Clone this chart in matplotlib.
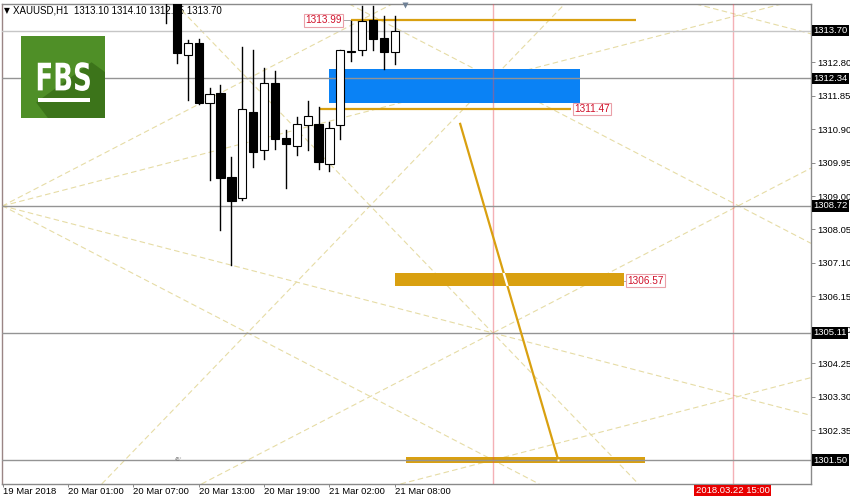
import matplotlib
matplotlib.use("Agg")
import matplotlib.pyplot as plt
import matplotlib.transforms as mtransforms
from matplotlib.patches import Rectangle, Polygon, PathPatch
from matplotlib.textpath import TextPath
from matplotlib.font_manager import FontProperties

plt.rcParams["font.family"] = ["Liberation Sans", "DejaVu Sans"]

# XAUUSD H1 candles (bar index, 0 = 19 Mar 2018 left edge)
bar_idx = list(range(15, 37))
opens = [1315.30, 1314.90, 1313.00, 1313.36, 1311.65, 1311.94, 1309.55, 1308.95,
         1311.40, 1310.31, 1312.20, 1310.66, 1310.42, 1311.02, 1311.05, 1309.91,
         1311.01, 1313.10, 1313.15, 1314.00, 1313.50, 1313.10]
highs = [1315.80, 1315.40, 1313.43, 1313.46, 1312.06, 1312.15, 1310.12, 1313.24,
         1313.15, 1312.64, 1312.55, 1310.89, 1311.24, 1311.71, 1311.54, 1311.09,
         1313.15, 1313.98, 1314.40, 1314.40, 1314.11, 1314.10]
lows = [1313.92, 1312.78, 1311.73, 1311.61, 1309.45, 1308.03, 1307.04, 1308.89,
        1309.83, 1310.04, 1310.35, 1309.22, 1310.16, 1310.31, 1309.76, 1309.71,
        1310.61, 1312.84, 1313.00, 1313.15, 1312.60, 1312.75]
closes = [1314.60, 1313.06, 1313.36, 1311.65, 1311.89, 1309.50, 1308.86, 1311.46,
          1310.25, 1312.20, 1310.61, 1310.47, 1311.05, 1311.27, 1309.96, 1310.94,
          1313.15, 1313.10, 1313.97, 1313.45, 1313.10, 1313.70]

xtick_pos = [0, 6, 12, 18, 24, 30, 36]
xtick_labels = ["19 Mar 2018", "20 Mar 01:00", "20 Mar 07:00", "20 Mar 13:00",
                "20 Mar 19:00", "21 Mar 02:00", "21 Mar 08:00"]
ytick_vals = [1302.35, 1303.30, 1304.25, 1305.20, 1306.15, 1307.10, 1308.05,
              1309.00, 1309.95, 1310.90, 1311.85, 1312.80]

# horizontal price levels (first one is the bid line)
levels = [1313.70, 1312.34, 1308.72, 1305.11, 1301.50]
vlines = [45, 67]
vline_label = "2018.03.22 15:00"

# gann grid lines: anchor bar, anchor price, slope (price per bar)
gann_x = [0, 0, 0, 0, 45, 45, 45, 45, 45, 67.5]
gann_y = [1308.72, 1308.72, 1308.72, 1308.72, 1312.34, 1305.11, 1305.11, 1312.34, 1301.50, 1314.145]
gann_slope = [0.1604, 0.0802, -0.0802, -0.1604, -0.1604, -0.3209, 0.1604, 0.3209, 0.0802, -0.0802]

# objects
blue_box = (30, 53, 1311.65, 1312.61)
gold_lines = [(32, 58.1, 1313.99), (29, 52.2, 1311.47)]
zones = [(36, 57, 1306.44, 1306.80), (37, 59, 1301.42, 1301.59)]
trend_x = [42, 51]
trend_y = [1311.05, 1301.50]

W, H = 850, 497
fig = plt.figure(figsize=(W / 100, H / 100), dpi=100)
ax = fig.add_axes([2 / W, 1 - 484 / H, 809 / W, 480 / H])
ax.set_xlim(-0.055, 74.2)
ax.set_ylim(1300.82, 1314.455)

gold = "#d9a010"

for x0, y0, s in zip(gann_x, gann_y, gann_slope):
    ax.axline((x0, y0), slope=s, color="#e6dca5", lw=0.8, ls=(0, (5, 3)), zorder=1)

ax.add_patch(Rectangle((blue_box[0], blue_box[2]), blue_box[1] - blue_box[0],
                       blue_box[3] - blue_box[2], color="#0a82f5", lw=0, zorder=2))

for (x0, x1, y0, y1) in zones:
    ax.add_patch(Rectangle((x0, y0), x1 - x0, y1 - y0, color=gold, lw=0, zorder=2.5))

for x in vlines:
    ax.axvline(x, color="#e8505e", alpha=0.45, lw=1, zorder=2.7)

for i, lv in enumerate(levels):
    ax.axhline(lv, color="#c6c6c6" if i == 0 else "#949494", lw=1, zorder=3)

for x0, x1, y in gold_lines:
    ax.plot([x0, x1], [y, y], color=gold, lw=1.6, zorder=3.5, solid_capstyle="butt")

# trend line, white where it runs over the upper zone
ax.plot(trend_x, trend_y, color=gold, lw=1.6, zorder=3.6)
zx0, zx1, zy0, zy1 = zones[0]
clip = Rectangle((zx0, zy0), zx1 - zx0, zy1 - zy0, transform=ax.transData)
wl, = ax.plot(trend_x, trend_y, color="white", lw=1.6, zorder=3.7)
wl.set_clip_path(clip)
ax.plot(trend_x[1], trend_y[1], "s", ms=2, color="white", mec="none", zorder=3.8)

# candles
for i, o, h, l, c in zip(bar_idx, opens, highs, lows, closes):
    ax.plot([i, i], [l, h], color="black", lw=1, zorder=4)
    bot = min(o, c)
    ht = max(abs(c - o), 0.015)
    fc = "white" if c >= o else "black"
    ax.add_patch(Rectangle((i - 0.38, bot), 0.76, ht, facecolor=fc,
                           edgecolor="black", lw=0.8, zorder=5))

# price labels of objects
lab = dict(fontsize=7.2, color="#d0102a", va="center", zorder=6,
           bbox=dict(boxstyle="square,pad=0.12", fc="white", ec="#eaa0a8", lw=0.8))
ax.text(31.1, 1313.99, "1313.99", ha="right", **lab)
ax.plot([31.1, 32], [1313.99, 1313.99], color="#999", lw=0.6, zorder=3.4)
ax.text(52.45, 1311.47, "1311.47", ha="left", **lab)
ax.text(57.35, 1306.60, "1306.57", ha="left", **lab)
ax.plot([57, 57.35], [1306.60, 1306.60], color="#999", lw=0.6, zorder=3.4)
ax.text(16.2, 1301.52, "45°", fontsize=3.5, color="#777", va="center", ha="center", zorder=4)

# header
ax.text(0.003, 0.987, "\u25bc", transform=ax.transAxes, fontsize=5.5, color="black",
        va="center", ha="left", zorder=0.5, family="DejaVu Sans")
ax.text(0.0135, 0.987, "XAUUSD,H1  1313.10 1314.10 1312.75 1313.70", transform=ax.transAxes,
        fontsize=7, color="black", va="center", ha="left", zorder=0.5)
ax.plot(36.9, 1314.42, marker="v", ms=5, color="#6f8196", mec="none", clip_on=False, zorder=6)

# axes
ax.yaxis.tick_right()
ax.set_yticks(ytick_vals)
ax.set_yticklabels([f"{v:.2f}" for v in ytick_vals])
ax.set_xticks(xtick_pos)
ax.set_xticklabels(xtick_labels, ha="left")
ax.tick_params(axis="y", labelsize=6.8, length=3, width=0.6, color="#777", pad=1.5)
ax.tick_params(axis="x", labelsize=6.8, length=2, width=0.6, color="#777", pad=0.3)
for sp in ax.spines.values():
    sp.set_color("#8a8a8a")
    sp.set_linewidth(1)
ax.spines["left"].set_color("#9a8585")

tr = mtransforms.blended_transform_factory(ax.transAxes, ax.transData)
for lv in levels:
    ax.text(1.003, lv, f"{lv:.2f}", transform=tr, fontsize=6.8, color="white", va="center",
            ha="left", bbox=dict(boxstyle="square,pad=0.15", fc="black", ec="none"), zorder=7,
            clip_on=False)

trx = mtransforms.blended_transform_factory(ax.transData, ax.transAxes)
ax.text(vlines[1], -0.0135, vline_label, transform=trx, fontsize=6.8, color="white",
        va="center", ha="center", clip_on=False,
        bbox=dict(boxstyle="square,pad=0.15", fc="#e80000", ec="none"))

# FBS logo
lg = fig.add_axes([21 / W, 1 - 118 / H, 84 / W, 82 / H])
lg.set_xlim(0, 1)
lg.set_ylim(0, 1)
lg.axis("off")
lg.add_patch(Rectangle((0, 0), 1, 1, color="#4f8f27", lw=0))
lg.add_patch(Polygon([(0.18, 0.19), (0.84, 0.68), (1, 0.56), (1, 0), (0.32, 0)],
                     closed=True, color="#3c741a", lw=0))
tp = TextPath((0, 0), "FBS", size=1, prop=FontProperties(family="DejaVu Sans", weight="bold"))
ext = tp.get_extents()
t = (mtransforms.Affine2D().translate(-ext.x0, -ext.y0)
     .scale(0.62 / ext.width, 0.35 / ext.height).translate(0.2, 0.33))
lg.add_patch(PathPatch(t.transform_path(tp), color="white", lw=0))
lg.add_patch(Rectangle((0.2, 0.2), 0.62, 0.045, color="white", lw=0))

fig.savefig("out.png", dpi=100)
